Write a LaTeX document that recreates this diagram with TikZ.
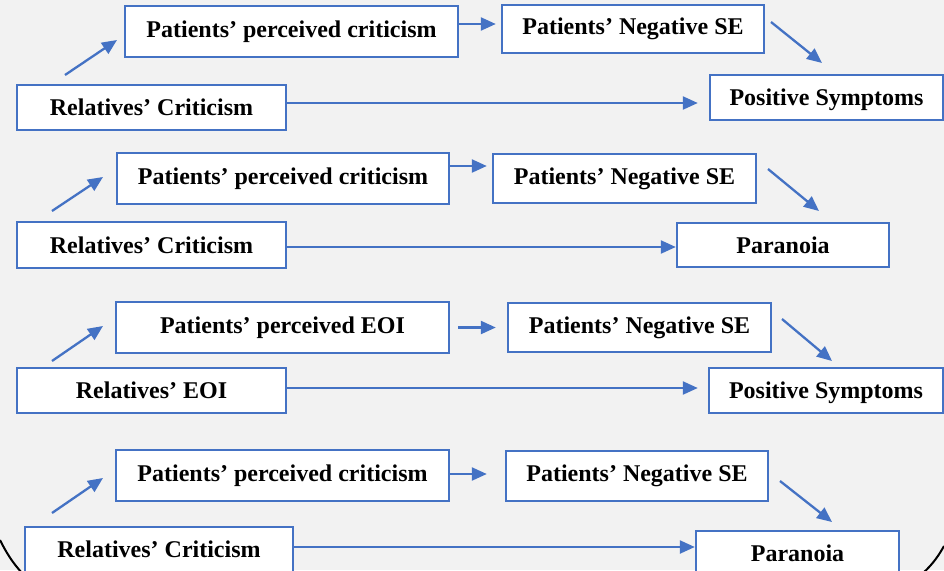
\documentclass[tikz,border=0pt]{standalone}
\usepackage{fontspec}
\setmainfont{Liberation Serif}
\usetikzlibrary{arrows.meta}
\definecolor{boxblue}{HTML}{4472C4}
\definecolor{paper}{HTML}{F2F2F2}
\begin{document}
\begin{tikzpicture}[x=1pt,y=-1pt,
  box/.style={draw=boxblue, line width=2.4pt, fill=white, inner sep=0pt,
    font=\fontsize{24}{28}\selectfont\bfseries, text=black},
  outcome/.style={box, text depth=0pt},
  arr/.style={draw=boxblue, line width=2.3pt, -{Triangle[length=15pt,width=13pt]}},
  frame/.style={draw=black, line width=2pt},
]
\useasboundingbox (0,0) rectangle (944,570);
\clip (0,0) rectangle (944,570);
\fill[paper] (0,0) rectangle (944,570);

% corners of the outer frame
\draw[frame] (0,540) .. controls (6,552) and (12,562) .. (22,573);
\draw[frame] (944,546) .. controls (939,555) and (933,564) .. (923,573);

% first model: criticism -> positive symptoms
\node[box, minimum width=333pt, minimum height=51pt] (P1) at (291.5,31.5) {Patients’ perceived criticism};
\node[box, minimum width=262pt, minimum height=48pt] (N1) at (633,29) {Patients’ Negative SE};
\node[outcome, minimum width=233pt, minimum height=45pt] (S1) at (826.5,97.5) {Positive Symptoms};
\node[box, minimum width=269pt, minimum height=45pt] (R1) at (151.5,107.5) {Relatives’ Criticism};

% second model: criticism -> paranoia
\node[box, minimum width=332pt, minimum height=51pt] (P2) at (283,178.5) {Patients’ perceived criticism};
\node[box, minimum width=263pt, minimum height=49pt] (N2) at (624.5,178.5) {Patients’ Negative SE};
\node[outcome, minimum width=212pt, minimum height=44pt] (Pa2) at (783,245) {Paranoia};
\node[box, minimum width=269pt, minimum height=46pt] (R2) at (151.5,245) {Relatives’ Criticism};

% third model: EOI -> positive symptoms
\node[box, minimum width=333pt, minimum height=51pt] (P3) at (282.5,327.5) {Patients’ perceived EOI};
\node[box, minimum width=263pt, minimum height=49pt] (N3) at (639.5,327.5) {Patients’ Negative SE};
\node[outcome, minimum width=234pt, minimum height=45pt] (S3) at (826,390.5) {Positive Symptoms};
\node[box, minimum width=269pt, minimum height=45pt] (R3) at (151.5,390.5) {Relatives’ EOI};

% fourth model: criticism -> paranoia
\node[box, minimum width=333pt, minimum height=51pt] (P4) at (282.5,475.5) {Patients’ perceived criticism};
\node[box, minimum width=262pt, minimum height=50pt] (N4) at (637,476) {Patients’ Negative SE};
\node[outcome, minimum width=203pt, minimum height=45pt] (Pa4) at (797.5,553.5) {Paranoia};
\node[box, minimum width=268pt, minimum height=45pt] (R4) at (159,549.5) {Relatives’ Criticism};

% free-standing diagonal arrows
\coordinate (a1s) at (65,75);   \coordinate (a1e) at (117,40);
\coordinate (c1s) at (771,22);  \coordinate (c1e) at (822,63);
\coordinate (a2s) at (52,211);  \coordinate (a2e) at (103,177);
\coordinate (c2s) at (768,169); \coordinate (c2e) at (819,211);
\coordinate (a3s) at (52,361);  \coordinate (a3e) at (103,326);
\coordinate (c3s) at (782,319); \coordinate (c3e) at (832,361);
\coordinate (a4s) at (52,513);  \coordinate (a4e) at (103,478);
\coordinate (c4s) at (780,481); \coordinate (c4e) at (832,522);
\foreach \k in {a1,c1,a2,c2,a3,c3,a4,c4} \draw[arr] (\k s) -- (\k e);

% perceived -> negative SE
\coordinate (b1s) at ([yshift=7.5pt]P1.east);
\draw[arr, shorten >=5pt] (b1s) -- (N1.west |- b1s);
\coordinate (b2s) at ([yshift=12.5pt]P2.east);
\draw[arr, shorten >=5pt] (b2s) -- (N2.west |- b2s);
\coordinate (b3s) at (P3.east);
\draw[arr, shorten <=8pt, shorten >=11pt] (b3s) -- (N3.west |- b3s);
\coordinate (b4s) at ([yshift=1.5pt]P4.east);
\draw[arr, shorten >=18pt] (b4s) -- (N4.west |- b4s);

% relatives -> outcome
\coordinate (d1s) at ([yshift=4.5pt]R1.east);
\draw[arr, shorten >=11pt] (d1s) -- (S1.west |- d1s);
\coordinate (d2s) at ([yshift=-2pt]R2.east);
\draw[arr] (d2s) -- (Pa2.west |- d2s);
\coordinate (d3s) at ([yshift=2.5pt]R3.east);
\draw[arr, shorten >=10pt] (d3s) -- (S3.west |- d3s);
\coordinate (d4s) at ([yshift=2.5pt]R4.east);
\draw[arr] (d4s) -- (Pa4.west |- d4s);
\end{tikzpicture}
\end{document}
